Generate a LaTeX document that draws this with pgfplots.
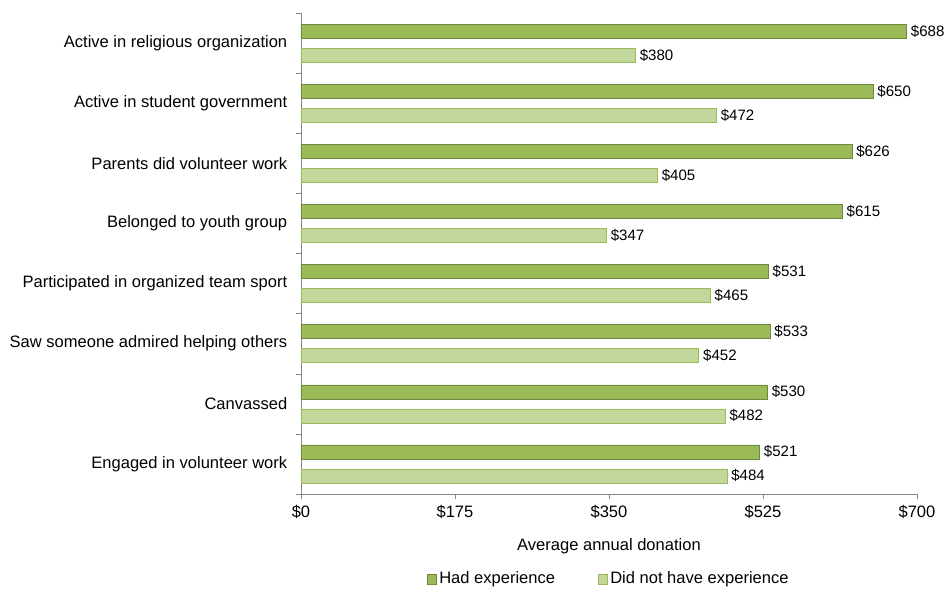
\documentclass[border=0pt]{standalone}
\usepackage{pgfplots}
\pgfplotsset{compat=1.18}
\usepackage{fontspec}
\setmainfont{Liberation Sans}
\definecolor{darkg}{HTML}{9BBB59}
\definecolor{darkgb}{HTML}{71893F}
\definecolor{lightg}{HTML}{C3D69B}
\definecolor{lightgb}{HTML}{9BBB59}
\definecolor{axgray}{HTML}{868686}
\begin{document}
\fontsize{12.4}{14.8}\selectfont
\begin{tikzpicture}
\useasboundingbox (-225.75pt,-70.5pt) rectangle (482.25pt,370.5pt);
\begin{axis}[
  at={(0pt,0pt)}, anchor=south west,
  scale only axis,
  width=462pt, height=360.75pt,
  xmin=0, xmax=700,
  ymin=-0.5, ymax=7.5,
  axis lines*=left,
  axis line style={draw=axgray},
  xbar, bar width=10.5pt,
  xtick={0,175,350,525,700},
  xticklabel={\$\pgfmathprintnumber{\tick}},
  /pgf/number format/assume math mode=true,
  ytick={0,...,7},
  yticklabels={Engaged in volunteer work,Canvassed,Saw someone admired helping others,Participated in organized team sport,Belonged to youth group,Parents did volunteer work,Active in student government,Active in religious organization},
  minor ytick={-0.5,0.5,...,7.5},
  major tick length=0pt,
  minor tick length=4pt,
  extra x ticks={0,175,350,525,700},
  extra x tick labels={},
  extra x tick style={major tick length=4pt, tick style={draw=axgray}},
  tick align=outside,
  tick style={draw=axgray},
  yticklabel style={xshift=-6pt},
  xticklabel style={yshift=-4pt},
  xlabel={Average annual donation},
  xlabel style={at={(axis description cs:0.5,-0.108)}, anchor=center},
  nodes near coords={\$\pgfmathprintnumber{\pgfplotspointmeta}},
  point meta=x,
  nodes near coords style={anchor=west, xshift=-1pt, font=\fontsize{11.3}{13.5}\selectfont},
  legend style={at={(0.5,-0.177)}, anchor=center, draw=none, legend columns=2, /tikz/every even column/.append style={column sep=30pt}},
  legend image code/.code={\draw[#1] (0pt,-3.5pt) rectangle (7pt,3.5pt);},
  clip=false,
]
\addplot[fill=darkg, draw=darkgb, bar shift=9pt] coordinates {
(521,0) (530,1) (533,2) (531,3) (615,4) (626,5) (650,6) (688,7)};
\addplot[fill=lightg, draw=lightgb, bar shift=-9pt] coordinates {
(484,0) (482,1) (452,2) (465,3) (347,4) (405,5) (472,6) (380,7)};
\legend{Had experience, Did not have experience}
\end{axis}
\end{tikzpicture}
\end{document}
